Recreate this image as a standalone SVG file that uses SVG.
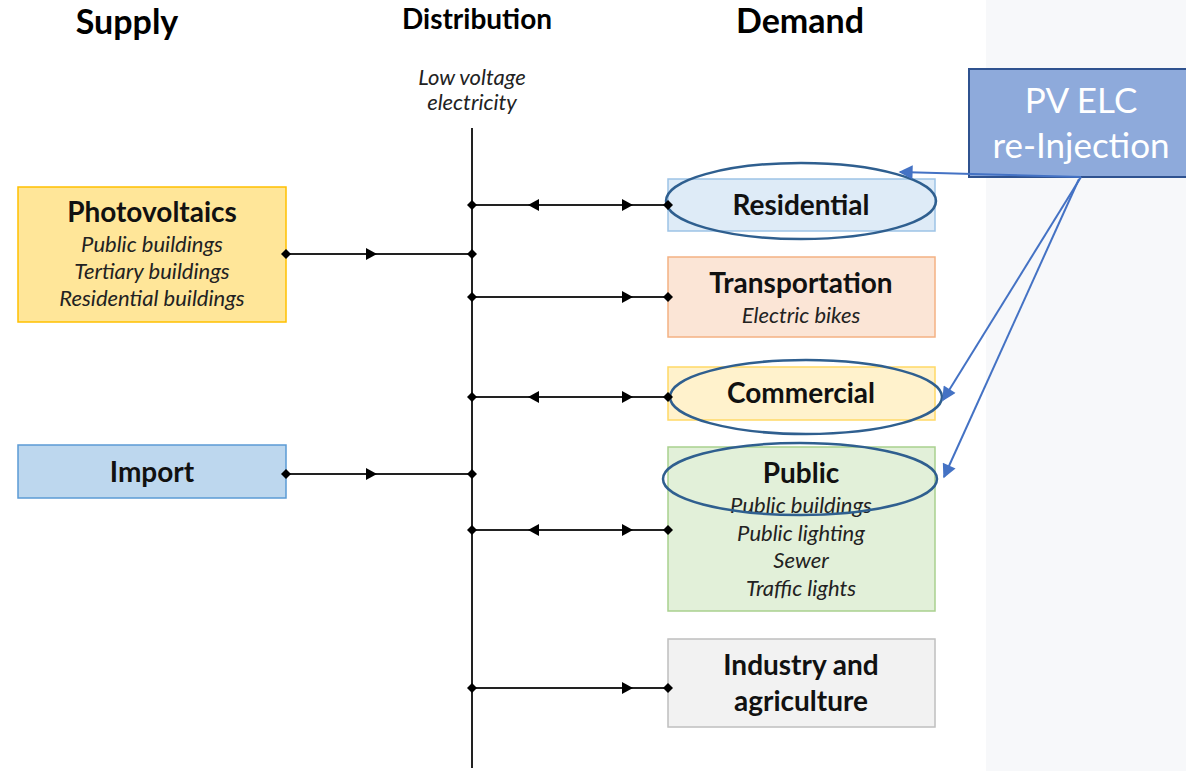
<svg xmlns="http://www.w3.org/2000/svg" width="1186" height="771" viewBox="0 0 1186 771">
<defs>
<style>
.hd{font-family:Lato,"Liberation Sans",sans-serif;font-weight:bold;fill:#000;text-anchor:middle}
.t{font-family:Lato,"Liberation Sans",sans-serif;font-weight:bold;font-size:28px;fill:#111;text-anchor:middle}
.s{font-family:Lato,"Liberation Sans",sans-serif;font-style:italic;font-size:22px;fill:#222;text-anchor:middle}
.ln{stroke:#222;stroke-width:2;fill:none}
.ell{fill:none;stroke:#2f5f8f;stroke-width:2.5}
.pv{stroke:#4472c4;stroke-width:2;fill:none}
</style>
<marker id="dia" viewBox="-6 -6 12 12" markerWidth="12" markerHeight="12" refX="0" refY="0" markerUnits="userSpaceOnUse" orient="auto"><path d="M-5 0L0-5L5 0L0 5Z" fill="#000"/></marker>
<marker id="blue" viewBox="0 0 10 10" markerWidth="16" markerHeight="14" refX="9" refY="5" markerUnits="userSpaceOnUse" orient="auto"><path d="M0 0L10 5L0 10Z" fill="#4472c4"/></marker>
<path id="ar" d="M0 0L-11-6L-11 6Z" fill="#000"/>
<path id="al" d="M0 0L11-6L11 6Z" fill="#000"/>
</defs>
<rect x="0" y="0" width="1186" height="771" fill="#fff"/>
<rect x="986" y="0" width="200" height="771" fill="#f7f8fa"/>

<g id="headers">
<text class="hd" x="127" y="34" font-size="34">Supply</text>
<text class="hd" x="477" y="29" font-size="28">Distribution</text>
<text class="hd" x="800" y="33" font-size="34">Demand</text>
<text class="s" x="472" y="85" font-size="21">Low voltage</text>
<text class="s" x="472" y="110" font-size="21">electricity</text>
</g>

<g id="photovoltaics">
<rect x="18" y="187" width="268" height="135" fill="#ffe699" stroke="#ffc000" stroke-width="1.5"/>
<text class="t" x="152" y="222">Photovoltaics</text>
<text class="s" x="152" y="252">Public buildings</text>
<text class="s" x="152" y="279">Tertiary buildings</text>
<text class="s" x="152" y="306">Residential buildings</text>
</g>

<g id="import">
<rect x="18" y="445" width="268" height="53" fill="#bdd7ee" stroke="#5b9bd5" stroke-width="1.5"/>
<text class="t" x="152" y="482">Import</text>
</g>

<g id="residential">
<rect x="668" y="179" width="267" height="52" fill="#deebf7" stroke="#9dc3e6" stroke-width="1.5"/>
<text class="t" x="801" y="215">Residential</text>
<ellipse class="ell" cx="801" cy="201" rx="135" ry="38"/>
</g>

<g id="transportation">
<rect x="668" y="257" width="267" height="80" fill="#fbe5d6" stroke="#f4b183" stroke-width="1.5"/>
<text class="t" x="801" y="293">Transportation</text>
<text class="s" x="801" y="323">Electric bikes</text>
</g>

<g id="commercial">
<rect x="668" y="367" width="267" height="53" fill="#fff2cc" stroke="#ffd966" stroke-width="1.5"/>
<text class="t" x="801" y="403">Commercial</text>
<ellipse class="ell" cx="806" cy="397" rx="136" ry="37"/>
</g>

<g id="public">
<rect x="668" y="447" width="267" height="164" fill="#e2f0d9" stroke="#a9d18e" stroke-width="1.5"/>
<text class="t" x="801" y="483">Public</text>
<text class="s" x="801" y="513">Public buildings</text>
<text class="s" x="801" y="541">Public lighting</text>
<text class="s" x="801" y="568">Sewer</text>
<text class="s" x="801" y="596">Traffic lights</text>
<ellipse class="ell" cx="800" cy="479" rx="137" ry="36"/>
</g>

<g id="industry">
<rect x="668" y="639" width="267" height="88" fill="#f2f2f2" stroke="#bfbfbf" stroke-width="1.5"/>
<text class="t" x="801" y="675">Industry and</text>
<text class="t" x="801" y="711">agriculture</text>
</g>

<g id="connectors">
<line class="ln" x1="472" y1="128" x2="472" y2="768"/>
<line class="ln" x1="286" y1="254" x2="472" y2="254" marker-start="url(#dia)" marker-end="url(#dia)"/>
<use href="#ar" x="377" y="254"/>
<line class="ln" x1="286" y1="474" x2="472" y2="474" marker-start="url(#dia)" marker-end="url(#dia)"/>
<use href="#ar" x="377" y="474"/>
<line class="ln" x1="472" y1="205" x2="668" y2="205" marker-start="url(#dia)" marker-end="url(#dia)"/>
<use href="#al" x="528" y="205"/><use href="#ar" x="633" y="205"/>
<line class="ln" x1="472" y1="297" x2="668" y2="297" marker-start="url(#dia)" marker-end="url(#dia)"/>
<use href="#ar" x="633" y="297"/>
<line class="ln" x1="472" y1="397" x2="668" y2="397" marker-start="url(#dia)" marker-end="url(#dia)"/>
<use href="#al" x="528" y="397"/><use href="#ar" x="633" y="397"/>
<line class="ln" x1="472" y1="530" x2="668" y2="530" marker-start="url(#dia)" marker-end="url(#dia)"/>
<use href="#al" x="528" y="530"/><use href="#ar" x="633" y="530"/>
<line class="ln" x1="472" y1="688" x2="668" y2="688" marker-start="url(#dia)" marker-end="url(#dia)"/>
<use href="#ar" x="633" y="688"/>
</g>

<g id="pv-reinjection">
<rect x="969" y="69" width="230" height="108" fill="#8eaadb" stroke="#2f528f" stroke-width="2"/>
<text x="1081" y="113" font-family="Lato,'Liberation Sans',sans-serif" font-size="35" fill="#fff" text-anchor="middle">PV ELC</text>
<text x="1081" y="158" font-family="Lato,'Liberation Sans',sans-serif" font-size="35" fill="#fff" text-anchor="middle">re-Injection</text>
</g>

<g id="pv-arrows">
<line class="pv" x1="1081" y1="177" x2="900" y2="172" marker-end="url(#blue)"/>
<line class="pv" x1="1081" y1="177" x2="943" y2="400" marker-end="url(#blue)"/>
<line class="pv" x1="1079" y1="179" x2="944" y2="477" marker-end="url(#blue)"/>
</g>
</svg>
